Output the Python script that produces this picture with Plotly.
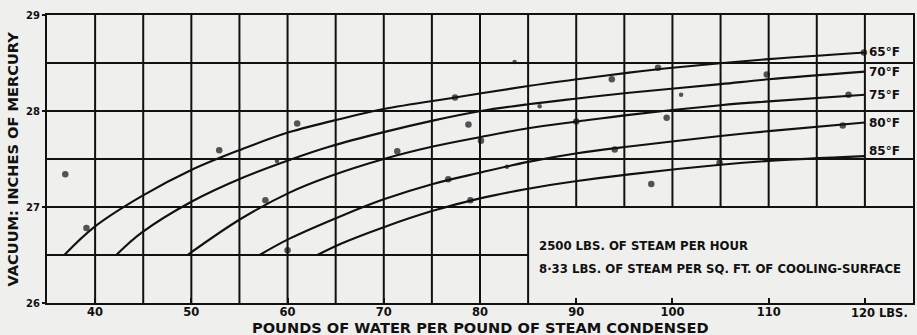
import plotly.graph_objects as go

# Curves of vacuum against cooling-water ratio, one per inlet-water temperature
temps = ["65°F", "70°F", "75°F", "80°F", "85°F"]

x_65 = [36.8, 39.9, 44.8, 50.1, 55.2, 60.2, 65.6, 70.0, 77.4, 85.0, 90.1, 95.5, 100.0, 110.0, 120.0]
y_65 = [26.5, 26.79, 27.11, 27.39, 27.60, 27.78, 27.92, 28.02, 28.14, 28.26, 28.33, 28.40, 28.45, 28.54, 28.61]

x_70 = [42.2, 44.8, 50.1, 55.2, 60.2, 64.4, 70.0, 75.1, 80.1, 85.0, 90.1, 95.5, 105.0, 110.0, 120.0]
y_70 = [26.5, 26.73, 27.06, 27.30, 27.49, 27.63, 27.78, 27.90, 28.00, 28.07, 28.13, 28.19, 28.28, 28.33, 28.41]

x_75 = [49.6, 55.2, 60.2, 64.4, 70.0, 75.1, 80.1, 85.0, 90.1, 95.5, 105.0, 110.0, 120.0]
y_75 = [26.5, 26.88, 27.15, 27.32, 27.50, 27.63, 27.73, 27.82, 27.89, 27.96, 28.06, 28.10, 28.17]

x_80 = [57.1, 60.2, 65.9, 70.0, 75.1, 80.1, 85.0, 90.1, 95.5, 105.0, 110.0, 120.0]
y_80 = [26.5, 26.67, 26.92, 27.08, 27.24, 27.36, 27.47, 27.56, 27.63, 27.74, 27.79, 27.88]

x_85 = [63.1, 65.6, 70.0, 75.1, 80.0, 85.0, 90.1, 95.5, 105.0, 110.0, 120.0]
y_85 = [26.5, 26.62, 26.79, 26.96, 27.09, 27.19, 27.27, 27.34, 27.44, 27.48, 27.53]

curves_x = [x_65, x_70, x_75, x_80, x_85]
curves_y = [y_65, y_70, y_75, y_80, y_85]

# Observed test points
obs_x = [36.9, 39.1, 52.9, 58.9, 61.0, 57.7, 60.0, 71.4, 77.4, 78.8, 80.1, 83.6, 86.2,
         90.0, 93.7, 76.7, 82.8, 79.0, 94.0, 98.5, 100.9, 99.4, 109.8, 118.3, 117.7,
         97.8, 104.9, 119.9]
obs_y = [27.34, 26.78, 27.59, 27.48, 27.87, 27.07, 26.55, 27.58, 28.14, 27.86, 27.69, 28.51, 28.05,
         27.89, 28.33, 27.29, 27.42, 27.07, 27.60, 28.45, 28.17, 27.93, 28.38, 28.17, 27.85,
         27.24, 27.46, 28.61]
obs_big = [1, 1, 1, 0, 1, 1, 1, 1, 1, 1, 1, 0, 0,
           1, 1, 1, 0, 1, 1, 1, 0, 1, 1, 1, 1,
           1, 1, 1]

x_ticks = [40, 50, 60, 70, 80, 90, 100, 110, 120]
x_tick_text = ["40", "50", "60", "70", "80", "90", "100", "110", ""]
y_ticks = [26, 27, 28, 29]

X_MIN, X_MAX = 35, 125
Y_MIN, Y_MAX = 26, 29
grid_x = list(range(40, 125, 5))
grid_y = [26.5, 27.0, 27.5, 28.0, 28.5]
# Lower-right panel holding the test conditions (no ruling inside it)
PANEL_X0, PANEL_Y1 = 85, 27.0

note_lines = ["2500 LBS. OF STEAM PER HOUR",
              "8·33 LBS. OF STEAM PER SQ. FT. OF COOLING-SURFACE"]

INK = "#111111"
PAPER = "#efefed"
FONT = "DejaVu Sans"
FONT_NARROW = "DejaVu Sans Condensed"

fig = go.Figure()

for cx, cy in zip(curves_x, curves_y):
    fig.add_trace(go.Scatter(x=cx, y=cy, mode="lines",
                             line=dict(color=INK, width=2.1, shape="spline", smoothing=1.0),
                             hoverinfo="skip", showlegend=False))

fig.add_trace(go.Scatter(x=obs_x, y=obs_y, mode="markers",
                         marker=dict(color=INK, size=[6.5 if b else 4.5 for b in obs_big],
                                     line=dict(width=0)),
                         hoverinfo="skip", showlegend=False))

shapes = []
for gx in grid_x:
    y0 = Y_MIN if gx <= PANEL_X0 else PANEL_Y1
    shapes.append(dict(type="line", xref="x", yref="y", x0=gx, x1=gx, y0=y0, y1=Y_MAX,
                       line=dict(color=INK, width=2), layer="below"))
for gy in grid_y:
    x1 = PANEL_X0 if gy < PANEL_Y1 else X_MAX
    shapes.append(dict(type="line", xref="x", yref="y", x0=X_MIN, x1=x1, y0=gy, y1=gy,
                       line=dict(color=INK, width=2), layer="below"))

annotations = []
# Temperature labels at the right-hand ends of the curves
for name, cy in zip(temps, curves_y):
    annotations.append(dict(x=120, y=cy[-1], xref="x", yref="y", text=name,
                            xanchor="left", yanchor="middle", xshift=2,
                            yshift=5 if name == "85°F" else 0, showarrow=False,
                            font=dict(family=FONT, size=12, color=INK, weight="bold")))

annotations.append(dict(x=118.4, y=Y_MIN, xref="x", yref="y", text="120 LBS.",
                        xanchor="left", yanchor="top", yshift=-1, showarrow=False,
                        font=dict(family=FONT, size=11.5, color=INK, weight="bold")))

for i, line in enumerate(note_lines):
    annotations.append(dict(x=85.9, y=26.6 - i * 0.245, xref="x", yref="y", text=line,
                            xanchor="left", yanchor="middle", showarrow=False,
                            font=dict(family=FONT_NARROW, size=13, color=INK, weight="bold")))

annotations.append(dict(x=0.5, y=0, xref="paper", yref="paper", yshift=-14,
                        text="POUNDS OF WATER PER POUND OF STEAM CONDENSED",
                        xanchor="center", yanchor="top", showarrow=False,
                        font=dict(family=FONT, size=14.6, color=INK, weight="bold")))
annotations.append(dict(x=0, y=0.5, xref="paper", yref="paper", xshift=-25,
                        text="VACUUM: INCHES OF MERCURY", textangle=-90,
                        xanchor="right", yanchor="middle", showarrow=False,
                        font=dict(family=FONT, size=14.6, color=INK, weight="bold")))

fig.update_layout(
    width=917, height=335,
    margin=dict(l=47, r=2, t=15, b=32),
    paper_bgcolor=PAPER, plot_bgcolor=PAPER,
    shapes=shapes, annotations=annotations,
    showlegend=False,
)
fig.update_xaxes(range=[X_MIN, X_MAX], tickvals=x_ticks, ticktext=x_tick_text,
                 ticks="inside", ticklen=5, tickwidth=1.8, tickcolor=INK,
                 ticklabelstandoff=-3,
                 showgrid=False, zeroline=False,
                 showline=True, linewidth=2, linecolor=INK, mirror=True,
                 tickfont=dict(family=FONT, size=11.5, color=INK, weight="bold"))
fig.update_yaxes(range=[Y_MIN, Y_MAX], tickvals=y_ticks,
                 ticks="outside", ticklen=3, tickwidth=1.5, tickcolor=INK,
                 showgrid=False, zeroline=False,
                 showline=True, linewidth=2, linecolor=INK, mirror=True,
                 tickfont=dict(family=FONT, size=10, color=INK, weight="bold"))

fig.write_html("out.html")
